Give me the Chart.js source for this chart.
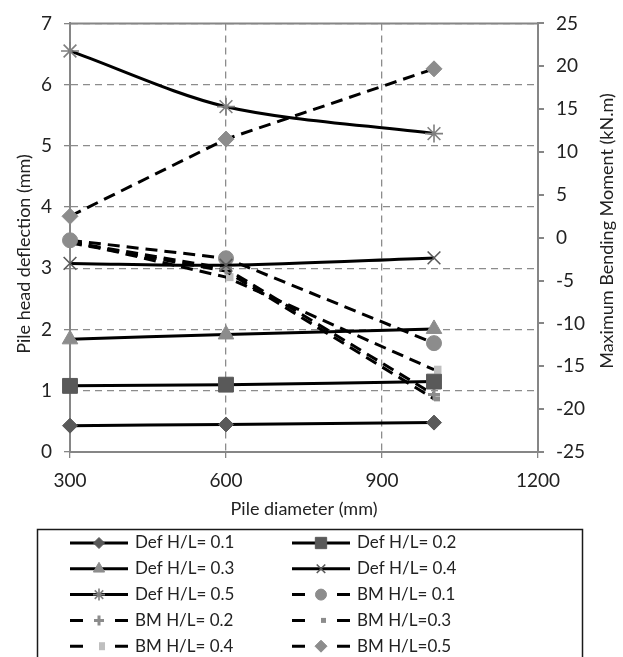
<!DOCTYPE html>
<html>
<head>
<meta charset="utf-8">
<title>Pile diameter chart</title>
<script src="https://cdn.jsdelivr.net/npm/chart.js@4.4.0/dist/chart.umd.min.js"></script>
<style>
  html, body { margin: 0; padding: 0; background: #fff; }
  #wrap { width: 623px; height: 657px; }
</style>
</head>
<body>
<div id="wrap"><canvas id="pileChart" width="623" height="657"></canvas></div>
<script>
// Pile head deflection / max bending moment vs pile diameter

const diameters = [300, 600, 1000];

// deflection (mm) - left axis
const defHL01 = [0.43, 0.45, 0.48];
const defHL02 = [1.08, 1.10, 1.15];
const defHL03 = [1.84, 1.92, 2.01];
const defHL04 = [3.08, 3.05, 3.17];
const defHL05 = [6.55, 5.64, 5.20];

// bending moment (kN.m) - right axis
const bmHL01 = [-0.3, -2.4, -12.3];
const bmHL02 = [-0.5, -3.6, -18.3];
const bmHL03 = [-0.6, -3.9, -18.8];
const bmHL04 = [-0.4, -4.6, -15.4];
const bmHL05 = [2.5, 11.5, 19.7];

const seriesLabels = [
    'Def H/L= 0.1', 'Def H/L= 0.2', 'Def H/L= 0.3', 'Def H/L= 0.4', 'Def H/L= 0.5',
    'BM H/L= 0.1', 'BM H/L= 0.2', 'BM H/L=0.3', 'BM H/L= 0.4', 'BM H/L=0.5'
];

const xTicks = [300, 600, 900, 1200];
const leftTicks = [0, 1, 2, 3, 4, 5, 6, 7];
const rightTicks = [-25, -20, -15, -10, -5, 0, 5, 10, 15, 20, 25];

const GRID = '#8c8c8c';
const AXIS = '#868686';
const TEXT = '#222';

function toPoints(values) {
    return diameters.map((d, i) => ({ x: d, y: values[i] }));
}

function series(label, values, axis, marker) {
    const dashed = axis === 'y1';
    return {
        label: label,
        data: toPoints(values),
        yAxisID: axis,
        clip: false,
        borderColor: '#000',
        borderWidth: 3,
        borderDash: dashed ? [12, 7] : [],
        tension: dashed ? 0 : 0.3,
        pointStyle: marker.style,
        pointRadius: marker.r,
        pointBackgroundColor: marker.color,
        pointBorderColor: marker.color,
        pointBorderWidth: marker.bw || 1,
        legendRadius: marker.lr,
        order: dashed ? 2 : 1
    };
}

const datasets = [
    series(seriesLabels[0], defHL01, 'y', { style: 'rectRot', r: 7.5, lr: 5.5, color: '#595959' }),
    series(seriesLabels[1], defHL02, 'y', { style: 'rect', r: 10.5, lr: 8, color: '#595959' }),
    series(seriesLabels[2], defHL03, 'y', { style: 'triangle', r: 9, lr: 6.5, color: '#8c8c8c' }),
    series(seriesLabels[3], defHL04, 'y', { style: 'crossRot', r: 9, lr: 6, color: '#595959', bw: 1.6 }),
    series(seriesLabels[4], defHL05, 'y', { style: 'star', r: 9, lr: 6, color: '#7f7f7f', bw: 1.6 }),
    series(seriesLabels[5], bmHL01, 'y1', { style: 'circle', r: 7.5, lr: 5.5, color: '#8c8c8c' }),
    series(seriesLabels[6], bmHL02, 'y1', { style: 'cross', r: 6, lr: 5, color: '#8c8c8c', bw: 3 }),
    series(seriesLabels[7], bmHL03, 'y1', { style: 'dash', r: 6, lr: 5, color: '#8c8c8c', bw: 5 }),
    series(seriesLabels[8], bmHL04, 'y1', { style: 'dash', r: 7.5, lr: 6, color: '#bfbfbf', bw: 8 }),
    series(seriesLabels[9], bmHL05, 'y1', { style: 'rectRot', r: 8, lr: 6, color: '#8c8c8c' })
];

function verticalText(ctx, text, x, y, size) {
    ctx.save();
    ctx.translate(x, y);
    ctx.rotate(-Math.PI / 2);
    ctx.fillStyle = TEXT;
    ctx.font = size + 'px Lato';
    ctx.textAlign = 'center';
    ctx.textBaseline = 'middle';
    ctx.fillText(text, 0, 0);
    ctx.restore();
}

// solid top border of the plot + both y axis titles
const frame = {
    id: 'frame',
    beforeDatasetsDraw(chart) {
        const { ctx, chartArea: a } = chart;
        ctx.save();
        ctx.strokeStyle = AXIS;
        ctx.lineWidth = 2;
        ctx.beginPath();
        ctx.moveTo(a.left, a.top);
        ctx.lineTo(a.right + 1, a.top);
        ctx.stroke();
        ctx.restore();
    },
    afterDraw(chart) {
        verticalText(chart.ctx, 'Pile head deflection (mm)', 24, 254, 18);
        verticalText(chart.ctx, 'Maximum Bending Moment (kN.m)', 607, 231, 18);
    }
};

// boxed legend in two columns under the x axis
const boxLegend = {
    id: 'boxLegend',
    afterDraw(chart) {
        const ctx = chart.ctx;
        ctx.save();
        ctx.strokeStyle = '#1a1a1a';
        ctx.lineWidth = 1.5;
        ctx.strokeRect(37.5, 529.5, 545, 140);

        chart.data.datasets.forEach((ds, i) => {
            const x0 = (i % 2) ? 292 : 70;
            const y = 543 + Math.floor(i / 2) * 25.8;

            ctx.strokeStyle = '#000';
            ctx.lineWidth = 3;
            ctx.setLineDash(ds.borderDash.length ? [13, 32] : []);
            ctx.beginPath();
            ctx.moveTo(x0, y);
            ctx.lineTo(x0 + 58, y);
            ctx.stroke();
            ctx.setLineDash([]);

            ctx.fillStyle = ds.pointBackgroundColor;
            ctx.strokeStyle = ds.pointBorderColor;
            ctx.lineWidth = ds.pointBorderWidth;
            Chart.helpers.drawPoint(ctx, {
                pointStyle: ds.pointStyle,
                rotation: 0,
                radius: ds.legendRadius,
                borderWidth: ds.pointBorderWidth
            }, x0 + 29, y);

            ctx.fillStyle = TEXT;
            ctx.font = '17px Lato';
            ctx.textAlign = 'left';
            ctx.textBaseline = 'middle';
            ctx.fillText(ds.label, x0 + 65, y);
        });
        ctx.restore();
    }
};

function fixedTicks(list) {
    return scale => { scale.ticks = list.map(v => ({ value: v })); };
}

const plainNumber = v => String(v);

Chart.defaults.font.family = 'Lato';
Chart.defaults.font.size = 19;
Chart.defaults.color = TEXT;

new Chart(document.getElementById('pileChart').getContext('2d'), {
    type: 'line',
    data: { datasets: datasets },
    options: {
        responsive: false,
        animation: false,
        layout: { padding: { top: 17, left: 0, right: 0, bottom: 135 } },
        plugins: {
            legend: { display: false },
            tooltip: { enabled: false }
        },
        scales: {
            x: {
                type: 'linear',
                min: xTicks[0],
                max: xTicks[xTicks.length - 1],
                afterBuildTicks: fixedTicks(xTicks),
                afterFit: s => { s.height = 70; },
                ticks: { padding: 11, callback: plainNumber },
                grid: { color: GRID, lineWidth: 1.3, tickLength: 6, tickColor: AXIS, tickBorderDash: [] },
                border: { color: AXIS, width: 2, dash: [7, 5] },
                title: { display: true, text: 'Pile diameter (mm)', font: { size: 18 }, padding: { top: 0, bottom: 2 } }
            },
            y: {
                position: 'left',
                min: leftTicks[0],
                max: leftTicks[leftTicks.length - 1],
                afterBuildTicks: fixedTicks(leftTicks),
                afterFit: s => { s.width = 70; },
                ticks: { padding: 12, callback: plainNumber },
                grid: { color: GRID, lineWidth: 1.3, tickLength: 6, tickColor: AXIS, tickBorderDash: [] },
                border: { color: AXIS, width: 2, dash: [7, 5] }
            },
            y1: {
                position: 'right',
                min: rightTicks[0],
                max: rightTicks[rightTicks.length - 1],
                afterBuildTicks: fixedTicks(rightTicks),
                afterFit: s => { s.width = 85; },
                ticks: { padding: 12, callback: plainNumber },
                grid: { drawOnChartArea: false, tickLength: 6, tickColor: AXIS, lineWidth: 2 },
                border: { color: AXIS, width: 2 }
            }
        }
    },
    plugins: [frame, boxLegend]
});
</script>
</body>
</html>
